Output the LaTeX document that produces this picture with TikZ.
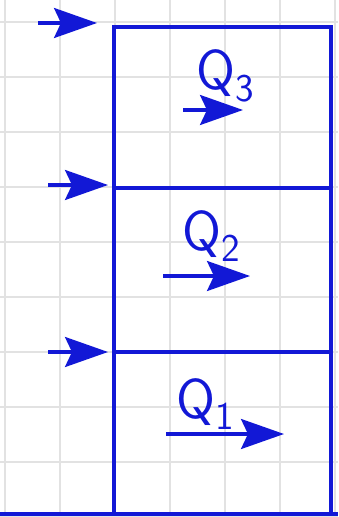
\documentclass[tikz,border=0pt]{standalone}
\usepackage{tikz}
\usetikzlibrary{arrows.meta,positioning}
\definecolor{inkblue}{RGB}{18,24,214}
\definecolor{gridgray}{RGB}{226,226,226}

\begin{document}
\begin{tikzpicture}[x=0.02cm, y=-0.02cm, >={Stealth[length=0.86cm,width=0.6cm,inset=0.14cm]},
    section/.style={rectangle, draw=inkblue, line width=2.2pt, minimum width=4.34cm, inner sep=0pt, outer sep=0pt},
    flow/.style={->, color=inkblue, line width=1.8pt},
    wall/.style={draw=inkblue, line width=2.2pt},
    gridline/.style={draw=gridgray, line width=0.8pt},
    lbl/.style={text=inkblue, font=\sffamily\fontsize{32}{32}\selectfont}]

    \useasboundingbox[fill=white] (0,0) rectangle (338,517);

    % squared paper
    \foreach \gx in {5,60,...,335} \draw[gridline] (\gx,0) -- (\gx,517);
    \foreach \gy in {22,77,...,517} \draw[gridline] (0,\gy) -- (338,\gy);

    % the three sections, stacked
    \node[section, minimum height=3.22cm] (sec3) at (222.5,107.5) {};
    \node[section, minimum height=3.28cm, below=0pt of sec3] (sec2) {};
    \node[section, minimum height=3.24cm, below=0pt of sec2] (sec1) {};

    \coordinate (floorL) at (0,514);
    \coordinate (floorR) at (338,514);
    \draw[wall] (floorL) -- (floorR);

    % incoming arrows on the left
    \coordinate (in3) at (38,23);   \coordinate (at3) at (97,23);
    \coordinate (in2) at (48,185);  \coordinate (at2) at (108,185);
    \coordinate (in1) at (48,352);  \coordinate (at1) at (108,352);
    \draw[flow] (in3) -- (at3);
    \draw[flow] (in2) -- (at2);
    \draw[flow] (in1) -- (at1);

    % labels and flow arrows inside
    \node[lbl] (lbl3) at (226,76) {Q\textsubscript{3}};
    \node[lbl] (lbl2) at (212,236) {Q\textsubscript{2}};
    \node[lbl] (lbl1) at (206,404) {Q\textsubscript{1}};

    \coordinate (q3a) at (183,110); \coordinate (q3b) at (243,110);
    \coordinate (q2a) at (163,276); \coordinate (q2b) at (250,276);
    \coordinate (q1a) at (166,434); \coordinate (q1b) at (284,434);
    \draw[flow] (q3a) -- (q3b);
    \draw[flow] (q2a) -- (q2b);
    \draw[flow] (q1a) -- (q1b);
\end{tikzpicture}
\end{document}
